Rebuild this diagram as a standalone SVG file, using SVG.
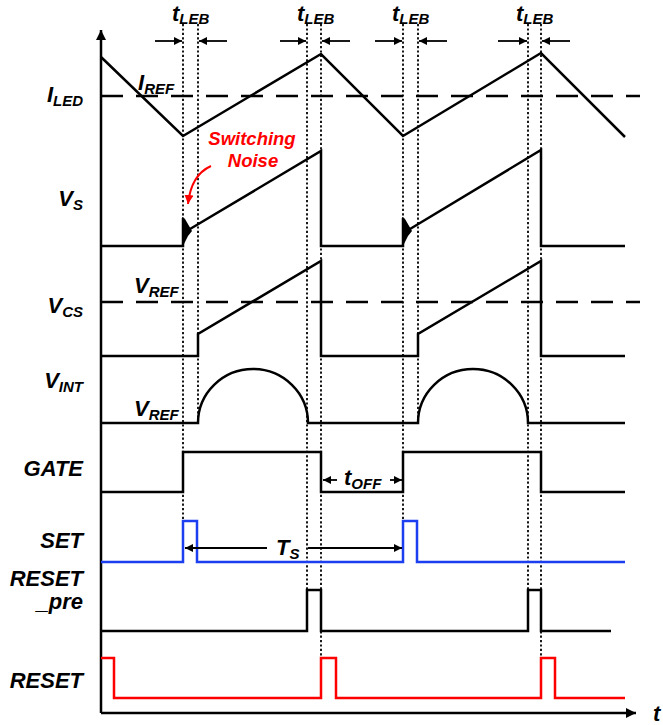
<svg xmlns="http://www.w3.org/2000/svg" width="663" height="725" viewBox="0 0 663 725">
<style>
.w{fill:none;stroke:#000;stroke-width:2.5;stroke-linejoin:miter}
.red{fill:none;stroke:#ff0000;stroke-width:2.5}
.blue{fill:none;stroke:#1b3ff0;stroke-width:2.5}
.dash{fill:none;stroke:#000;stroke-width:2.5;stroke-dasharray:22 13}
.dot{fill:none;stroke:#000;stroke-width:1.8;stroke-dasharray:2.2 2.2}
.dim{fill:none;stroke:#000;stroke-width:1.8}
.lab{font-family:"Liberation Sans",Arial,sans-serif;font-weight:bold;font-style:italic;font-size:22px;fill:#000}
.sub{font-size:15px}
.rt{fill:#ff0000;font-size:18.5px}
</style>
<defs>
<marker id="ah" viewBox="0 0 10 10" refX="10" refY="5" markerWidth="9" markerHeight="8" markerUnits="userSpaceOnUse" orient="auto"><path d="M0,0L10,5L0,10z" fill="#000"/></marker>
<marker id="ahr" viewBox="0 0 10 10" refX="10" refY="5" markerWidth="9" markerHeight="9" markerUnits="userSpaceOnUse" orient="auto"><path d="M0,0L10,5L0,10z" fill="#ff0000"/></marker>
<marker id="axh" viewBox="0 0 10 10" refX="10" refY="5" markerWidth="11" markerHeight="10" markerUnits="userSpaceOnUse" orient="auto"><path d="M0,0L10,5L0,10z" fill="#000"/></marker>
</defs>

<g id="axes">
<path class="w" d="M101,713V30" marker-end="url(#axh)"/>
<path class="w" d="M101,713H636" marker-end="url(#axh)"/>
<text class="lab" x="653" y="721" font-size="24">t</text>
</g>

<g id="guides">
<path class="dot" d="M183,24V521M198,24V423M307,24V590M321,24V658M403,24V521M418,24V423M528,24V590M541,24V658"/>
</g>

<g id="refs">
<path class="dash" d="M101,96H640"/>
<path class="dash" d="M101,302H640"/>
</g>

<g id="I_LED">
<path class="w" d="M101,57L183,136L321,54L403,136L541,53L625,137"/>
<text class="lab" x="83" y="102" text-anchor="end">I<tspan class="sub" dy="4">LED</tspan></text>
<text class="lab" x="138" y="90" font-size="20">I<tspan class="sub" dy="4">REF</tspan></text>
</g>

<g id="V_S">
<path class="w" d="M101,246H183V218M190,229L321,151V246H403V218M410,229L541,150V246H625"/>
<polygon points="182,246 182,217 185,219 192,231 188,236 184,244" fill="#000"/>
<polygon points="402,246 402,217 405,219 412,231 408,236 404,244" fill="#000"/>
<text class="lab" x="83" y="206" text-anchor="end">V<tspan class="sub" dy="4">S</tspan></text>
</g>

<g id="V_CS">
<path class="w" d="M101,356H198V334L321,261V356H418V334L541,261V356H625"/>
<text class="lab" x="83" y="313" text-anchor="end">V<tspan class="sub" dy="4">CS</tspan></text>
<text class="lab" x="134" y="293">V<tspan class="sub" dy="4">REF</tspan></text>
</g>

<g id="V_INT">
<path class="w" d="M101,423H198A55,54 0 0 1 308,423H418A55,54 0 0 1 528,423H625"/>
<text class="lab" x="83" y="388" text-anchor="end">V<tspan class="sub" dy="4">INT</tspan></text>
<text class="lab" x="134" y="416">V<tspan class="sub" dy="4">REF</tspan></text>
</g>

<g id="GATE">
<path class="w" d="M101,492H183V452H321V492H403V452H541V492H625"/>
<text class="lab" x="83" y="476" text-anchor="end">GATE</text>
</g>

<g id="SET">
<path class="blue" d="M101,562H183V521H197V562H403V521H417V562H625"/>
<text class="lab" x="83" y="548" text-anchor="end">SET</text>
</g>

<g id="RESET_pre">
<path class="w" d="M101,631H307V590H321V631H528V590H541V631H611"/>
<text class="lab" x="83" y="586" text-anchor="end">RESET</text>
<text class="lab" x="83" y="609" text-anchor="end">_pre</text>
</g>

<g id="RESET">
<path class="red" d="M101,658H114V698H321V658H336V698H541V658H555V698H625"/>
<text class="lab" x="83" y="688" text-anchor="end">RESET</text>
</g>

<g id="connectors">
<path class="dim" d="M155,41H182" marker-end="url(#ah)"/>
<path class="dim" d="M227,41H199" marker-end="url(#ah)"/>
<path class="dim" d="M280,41H306" marker-end="url(#ah)"/>
<path class="dim" d="M350,41H322" marker-end="url(#ah)"/>
<path class="dim" d="M375,41H402" marker-end="url(#ah)"/>
<path class="dim" d="M447,41H419" marker-end="url(#ah)"/>
<path class="dim" d="M498,41H527" marker-end="url(#ah)"/>
<path class="dim" d="M570,41H542" marker-end="url(#ah)"/>
<path class="dim" d="M337,480H323" marker-end="url(#ah)"/>
<path class="dim" d="M390,480H402" marker-end="url(#ah)"/>
<path class="dim" d="M267,548H185" marker-end="url(#ah)"/>
<path class="dim" d="M308,548H402" marker-end="url(#ah)"/>
<path d="M211,166Q191,175 188,204" fill="none" stroke="#ff0000" stroke-width="2" marker-end="url(#ahr)"/>
</g>

<g id="annotations">
<text class="lab" x="172" y="21" font-size="25">t<tspan class="sub" dy="3" font-size="17">LEB</tspan></text>
<text class="lab" x="297" y="21" font-size="25">t<tspan class="sub" dy="3" font-size="17">LEB</tspan></text>
<text class="lab" x="392" y="21" font-size="25">t<tspan class="sub" dy="3" font-size="17">LEB</tspan></text>
<text class="lab" x="516" y="21" font-size="25">t<tspan class="sub" dy="3" font-size="17">LEB</tspan></text>
<text class="lab" x="344" y="485" font-size="23">t<tspan class="sub" dy="4" font-size="16">OFF</tspan></text>
<text class="lab" x="276" y="555" font-size="24">T<tspan class="sub" dy="4" font-size="16">S</tspan></text>
<text class="lab rt" x="252" y="145" text-anchor="middle">Switching</text>
<text class="lab rt" x="253" y="167" text-anchor="middle">Noise</text>
</g>
</svg>
